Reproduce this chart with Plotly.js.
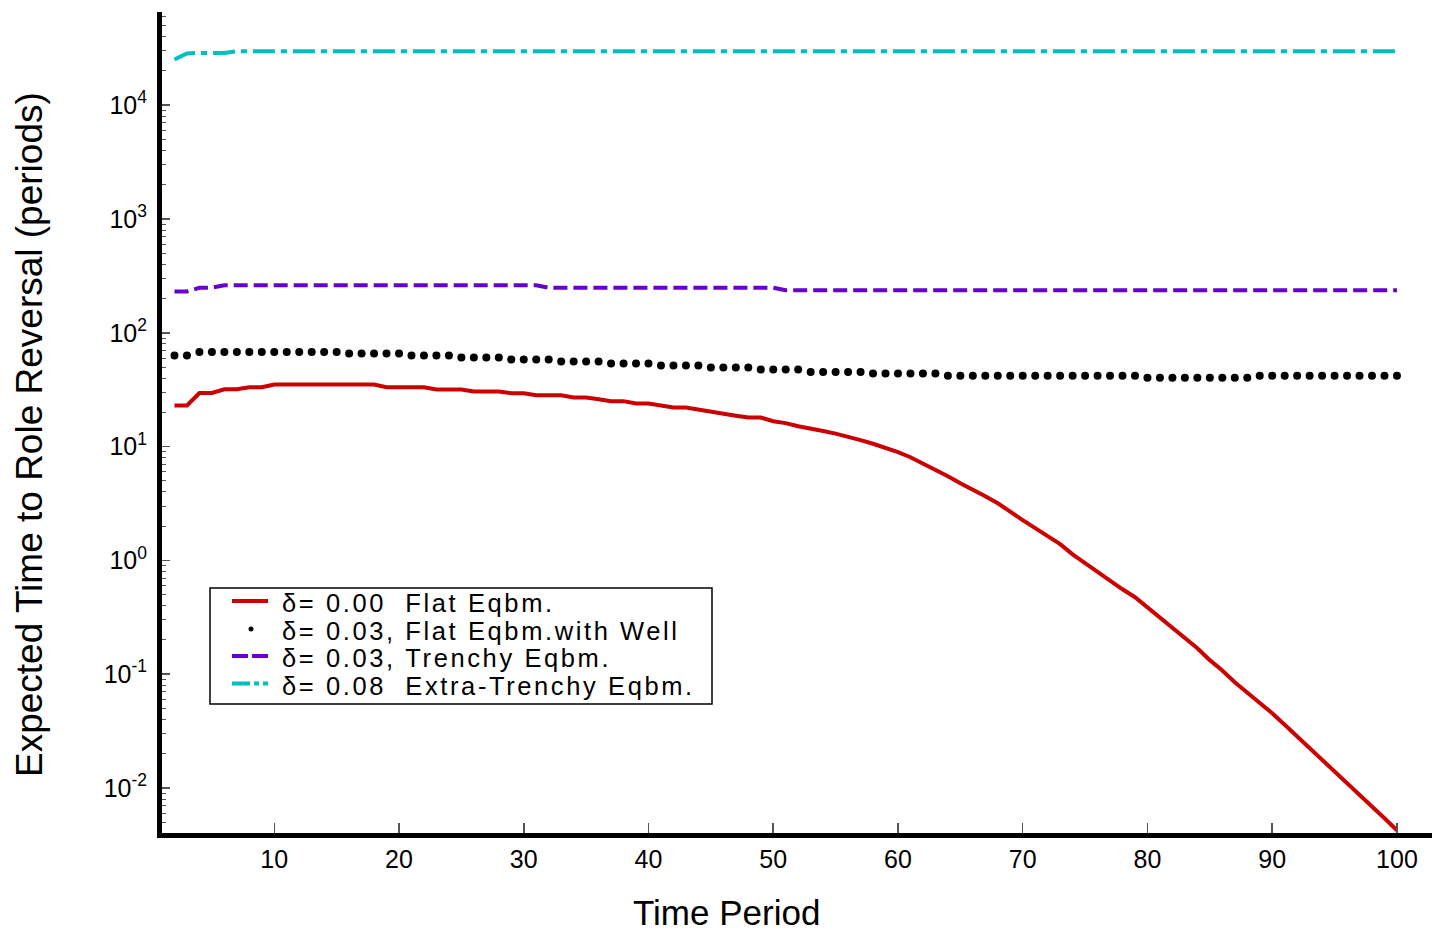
<!DOCTYPE html>
<html><head><meta charset="utf-8">
<script src="https://cdn.plot.ly/plotly-3.0.1.min.js"></script>
<style>html,body{margin:0;padding:0;background:#fff}#chart{width:1432px;height:933px}</style>
</head><body><div id="chart"></div>
<script>
const periods = [2,3,4,5,6,7,8,9,10,11,12,13,14,15,16,17,18,19,20,21,22,23,24,25,26,27,28,29,30,31,32,33,34,35,36,37,38,39,40,41,42,43,44,45,46,47,48,49,50,51,52,53,54,55,56,57,58,59,60,61,62,63,64,65,66,67,68,69,70,71,72,73,74,75,76,77,78,79,80,81,82,83,84,85,86,87,88,89,90,91,92,93,94,95,96,97,98,99,100];

const flatEqbm = [23,23,29.6,29.6,31.9,31.9,33.3,33.3,
  35.1,35.1,35.1,35.1,35.1,35.1,35.1,35.1,35.1,
  33.3,33.3,33.3,33.3,
  31.8,31.8,31.8,
  30.5,30.5,30.5,
  29.5,29.5,
  28.3,28.3,28.3,
  27.0,27.0,
  26.1,
  25.1,25.1,
  23.9,23.9,
  23.1,
  22.1,22.1,
  21.1,20.3,19.5,18.7,18.0,18.0,16.7,16.1,15.1,14.5,13.7,13.0,12.3,11.4,10.6,9.78,8.93,8.07,7.15,6.27,5.49,4.77,4.20,3.67,3.18,2.71,2.26,1.92,1.63,1.39,1.13,0.945,0.804,0.670,0.558,0.475,0.388,0.317,0.256,0.209,0.169,0.133,0.108,0.0851,0.0695,0.0568,0.0454,0.0360,0.0285,0.0224,0.01755,0.0139,0.0110,0.00865,0.00685,0.00543,0.00426];

const flatWell = [63.2,63.2,
  67.9,67.9,67.9,67.9,67.9,67.9,67.9,67.9,67.9,67.9,67.9,67.9,
  65.8,65.8,65.8,65.8,65.8,
  63.2,63.2,63.2,63.2,
  60.7,60.7,60.7,60.7,
  58.3,58.3,58.3,58.3,
  55.9,55.9,55.9,55.9,
  53.7,53.7,53.7,53.7,
  51.6,51.6,51.6,51.6,
  49.6,49.6,49.6,49.6,
  47.6,47.6,47.6,47.6,
  45.3,45.3,45.3,45.3,45.3,
  43.9,43.9,43.9,43.9,43.9,43.9,
  42.0,42.0,42.0,42.0,42.0,42.0,42.0,42.0,42.0,42.0,42.0,42.0,42.0,42.0,42.0,42.0,
  40.2,40.2,40.2,40.2,40.2,40.2,40.2,40.2,40.2,
  42.0,42.0,42.0,42.0,42.0,42.0,42.0,42.0,42.0,42.0,42.0,42.0];

const trenchy = [231,231,249,249,
  262,262,262,262,262,262,262,262,262,262,262,262,262,262,262,262,262,262,262,262,262,262,262,262,262,262,
  249,249,249,249,249,249,249,249,249,249,249,249,249,249,249,249,249,249,249,
  237,237,237,237,237,237,237,237,237,237,237,237,237,237,237,237,237,237,237,237,237,237,237,237,237,
  237,237,237,237,237,237,237,237,237,237,237,237,237,237,237,237,237,237,237,237,237,237,237,237,237];

const extraTrenchy = [25200,28500,28800,28800,28800,
  29800,29800,29800,29800,29800,29800,29800,29800,29800,29800,29800,29800,29800,29800,29800,29800,29800,29800,29800,29800,
  29800,29800,29800,29800,29800,29800,29800,29800,29800,29800,29800,29800,29800,29800,29800,29800,29800,29800,29800,29800,
  29800,29800,29800,29800,29800,29800,29800,29800,29800,29800,29800,29800,29800,29800,29800,29800,29800,29800,29800,29800,
  29800,29800,29800,29800,29800,29800,29800,29800,29800,29800,29800,29800,29800,29800,29800,29800,29800,29800,29800,29800,
  29800,29800,29800,29800,29800,29800,29800,29800,29800,29800,29800,29800,29800,29800];

const xTickVals = [10,20,30,40,50,60,70,80,90,100];
const yTickVals = [0.01,0.1,1,10,100,1000,10000];
const yTickText = ['10<sup>-2</sup>','10<sup>-1</sup>','10<sup>0</sup>','10<sup>1</sup>','10<sup>2</sup>','10<sup>3</sup>','10<sup>4</sup>'];
const legendLabels = ['\u03b4= 0.00\u00a0\u00a0Flat Eqbm.','\u03b4= 0.03, Flat Eqbm.with Well','\u03b4= 0.03, Trenchy Eqbm.','\u03b4= 0.08\u00a0\u00a0Extra-Trenchy Eqbm.'];
const xTitle = 'Time Period';
const yTitle = 'Expected Time to Role Reversal (periods)';

const W=1432,H=933,ML=162,MR=0,MT=12,MB=100;
function xp(px){return (px-ML)/(W-ML-MR);}
function yp(py){return (H-MB-py)/(H-MT-MB);}
const FONT='Liberation Sans, Arial, Helvetica, sans-serif';
const RED='#cc0000', PURPLE='#6600cc', CYAN='#00bfbf';
const PURPLE_DASH='14px,6px', CYAN_DASH='22px,6px,6px,6px';

const traces = [
  {x:periods,y:flatEqbm,mode:'lines',line:{color:RED,width:4},name:legendLabels[0]},
  {x:periods,y:flatWell,mode:'markers',marker:{color:'#000',size:8},name:legendLabels[1]},
  {x:periods,y:trenchy,mode:'lines',line:{color:PURPLE,width:4,dash:PURPLE_DASH},name:legendLabels[2]},
  {x:periods,y:extraTrenchy,mode:'lines',line:{color:CYAN,width:4,dash:CYAN_DASH},name:legendLabels[3]}
];

const rowY=[603,630.5,658,685.5];
const annotations=[
  {text:xTitle,xref:'paper',yref:'paper',x:xp(726),y:yp(912),xanchor:'center',yanchor:'middle',borderpad:0,showarrow:false,font:{family:FONT,size:35,color:'#000'}},
  {text:yTitle,xref:'paper',yref:'paper',x:xp(30),y:yp(435),xanchor:'center',yanchor:'middle',borderpad:0,textangle:-90,showarrow:false,font:{family:FONT,size:37,color:'#000'}}
];
legendLabels.forEach((t,i)=>annotations.push({text:t,xref:'paper',yref:'paper',x:xp(281),y:yp(rowY[i]),xanchor:'left',yanchor:'middle',align:'left',borderpad:0,showarrow:false,font:{family:FONT,size:25.5,color:'#000'}}));

const shapes=[
  {type:'rect',xref:'paper',yref:'paper',x0:xp(210),x1:xp(712),y0:yp(704),y1:yp(588),line:{color:'#000',width:1.5},fillcolor:'rgba(255,255,255,0)'},
  {type:'line',xref:'paper',yref:'paper',x0:xp(232),x1:xp(268),y0:yp(601),y1:yp(601),line:{color:RED,width:4}},
  {type:'circle',xref:'paper',yref:'paper',x0:xp(248.5),x1:xp(253.5),y0:yp(631.5),y1:yp(626.5),line:{color:'#000',width:0},fillcolor:'#000'},
  {type:'line',xref:'paper',yref:'paper',x0:xp(232),x1:xp(268),y0:yp(656),y1:yp(656),line:{color:PURPLE,width:4,dash:'16px,4px'}},
  {type:'line',xref:'paper',yref:'paper',x0:xp(232),x1:xp(268),y0:yp(683.5),y1:yp(683.5),line:{color:CYAN,width:4,dash:'18px,4px,5px,4px'}}
];

const layout={
  width:W,height:H,margin:{l:ML,r:MR,t:MT,b:MB},
  paper_bgcolor:'#fff',plot_bgcolor:'#fff',showlegend:false,
  font:{family:FONT,color:'#000'},
  xaxis:{range:[1,102.81],showline:true,linewidth:5,linecolor:'#000',ticks:'inside',ticklen:10,tickwidth:1.5,tickcolor:'#555',
    tickmode:'array',tickvals:xTickVals,showgrid:false,zeroline:false,tickfont:{family:FONT,size:25,color:'#000'}},
  yaxis:{type:'log',range:[-2.395,4.819],showline:true,linewidth:5,linecolor:'#000',ticks:'inside',ticklen:8,tickwidth:1.5,tickcolor:'#555',
    tickmode:'array',tickvals:yTickVals,ticktext:yTickText,showgrid:false,zeroline:false,ticklabelstandoff:5,tickfont:{family:FONT,size:25,color:'#000'},
    minor:{ticks:'inside',ticklen:4,tickwidth:1,tickcolor:'#555',dtick:'D1',showgrid:false}},
  annotations:annotations,shapes:shapes
};
Plotly.newPlot('chart',traces,layout,{displayModeBar:false,staticPlot:true}).then(function(gd){
  var txts=gd.querySelectorAll('.annotation-text');
  for(var i=2;i<txts.length;i++){
    var el=txts[i];
    var bb=el.getBBox();
    var left=bb.x;
    el.style.letterSpacing='2.6px';
    el.setAttribute('text-anchor','start');
    el.setAttribute('x',left);
    el.querySelectorAll('tspan').forEach(function(ts){if(ts.hasAttribute('x'))ts.setAttribute('x',left);});
  }
});
</script></body></html>
